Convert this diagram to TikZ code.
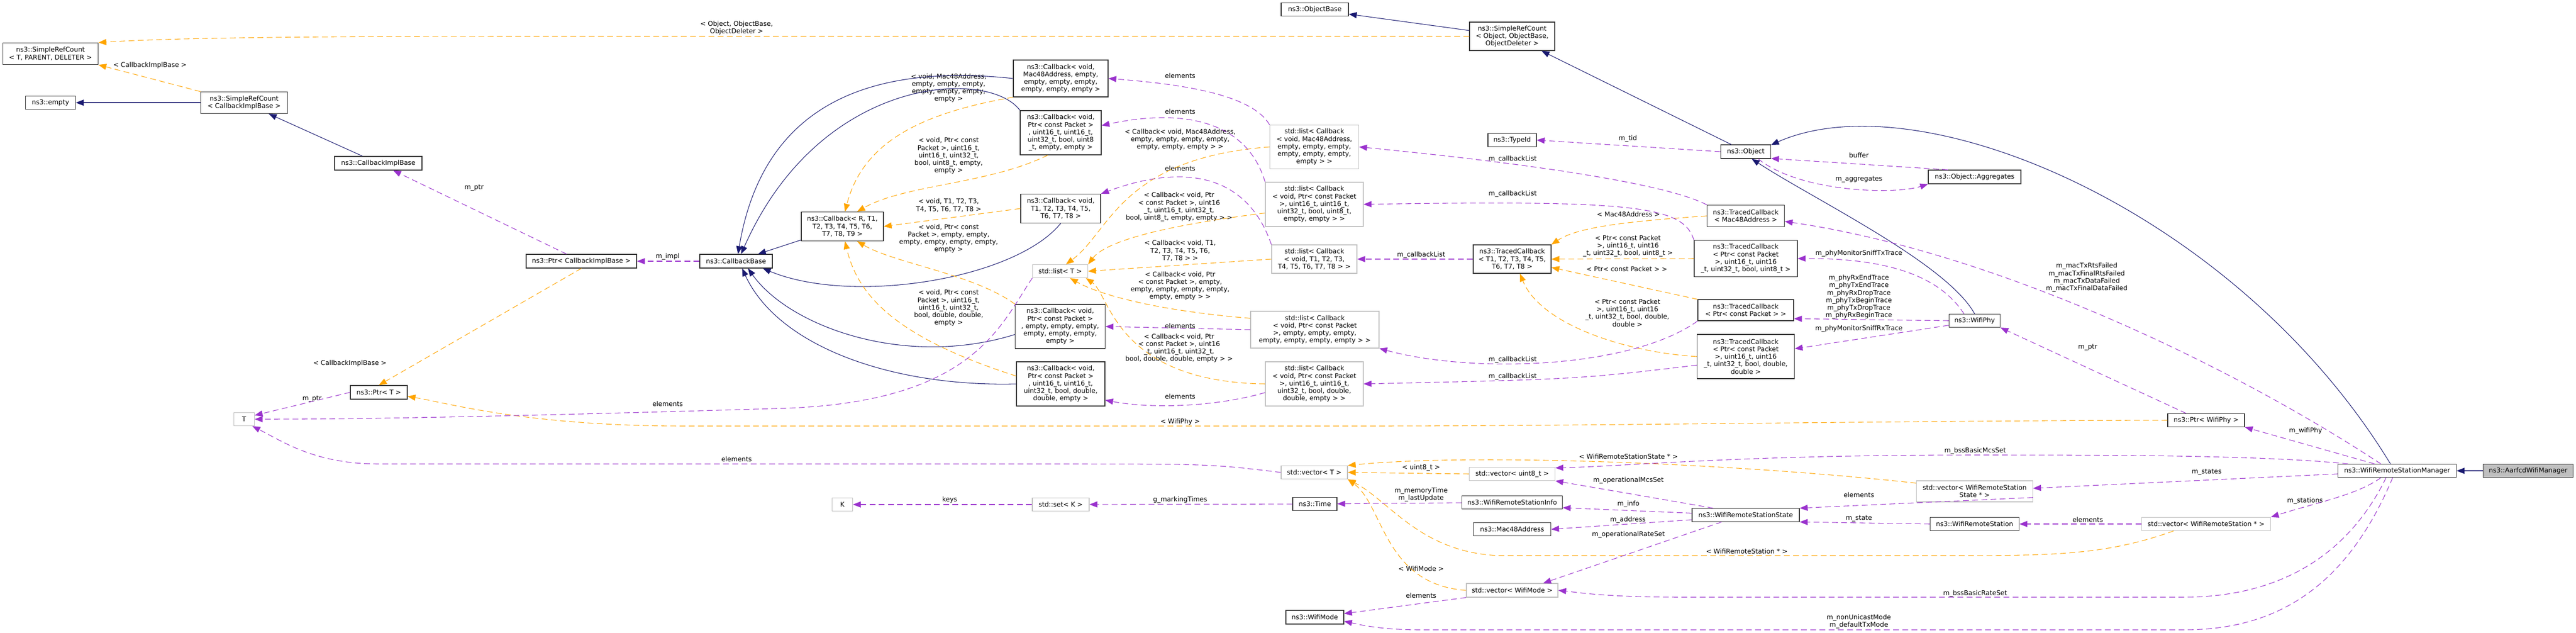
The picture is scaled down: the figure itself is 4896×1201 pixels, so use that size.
\documentclass[tikz,border=0pt]{standalone}
\usepackage{fontspec}
\setmainfont{DejaVu Sans}
\usetikzlibrary{arrows.meta}
\definecolor{inhc}{HTML}{191970}
\definecolor{usec}{HTML}{9A32CD}
\definecolor{tplc}{HTML}{FFA500}
\definecolor{grayb}{HTML}{BFBFBF}
\newcommand\dgfont{\fontsize{7.1pt}{8.1pt}\selectfont}
\tikzset{
  every node/.style={font=\dgfont},
  sz/.style n args={2}{minimum width=#1*0.02cm,minimum height=#2*0.02cm},
  nb/.style={draw=black!80,line width=0.7pt,fill=white,inner sep=0pt,align=center},
  ng/.style={draw=grayb,line width=0.7pt,fill=white,inner sep=0pt,align=center},
  lbl/.style={inner sep=0pt,align=center},
  tip/.style={-{Triangle[length=3mm,width=2.3mm]}},
  inh/.style={draw=inhc,line width=0.6pt,tip,-{Triangle[length=3mm,width=2.3mm,fill=inhc]}},
  use/.style={draw=usec,line width=0.6pt,dash pattern=on 2.2mm off 1.3mm,-{Triangle[length=3mm,width=2.3mm,fill=usec]}},
  tpl/.style={draw=tplc,line width=0.6pt,dash pattern=on 2.2mm off 1.3mm,-{Triangle[length=3mm,width=2.3mm,fill=tplc]}},
}
\begin{document}
\begin{tikzpicture}[x=0.02cm,y=-0.02cm]
\fill[white] (0,0) rectangle (4896,1201);
\useasboundingbox (0,0) rectangle (4896,1201);
% nodes
\node[nb,sz={181}{41}] (srcT) at (96,102) {ns3::SimpleRefCount\\< T, PARENT, DELETER >};
\node[nb,sz={95}{25}] (empty) at (96,195) {ns3::empty};
\node[nb,sz={165}{41}] (srcCIB) at (464,195) {ns3::SimpleRefCount\\< CallbackImplBase >};
\node[nb,sz={166}{26}] (cib) at (719,310) {ns3::CallbackImplBase};
\node[nb,sz={210}{26}] (ptrCIB) at (1105,496) {ns3::Ptr< CallbackImplBase >};
\node[nb,sz={138}{26}] (cbBase) at (1399,496) {ns3::CallbackBase};
\node[nb,sz={108}{26}] (ptrT) at (720,745) {ns3::Ptr< T >};
\node[ng,sz={39}{25}] (T) at (464,796) {T};
\node[ng,sz={39}{25}] (K) at (1601,958) {K};
\node[ng,sz={108}{25}] (setK) at (2016,958) {std::set< K >};
\node[nb,sz={156}{55}] (cbRT) at (1601,430) {ns3::Callback< R, T1,\\T2, T3, T4, T5, T6,\\T7, T8, T9 >};
\node[nb,sz={180}{70}] (cbMac) at (2016,149) {ns3::Callback< void,\\Mac48Address, empty,\\empty, empty, empty,\\empty, empty, empty >};
\node[nb,sz={154}{84}] (cbPkt8) at (2016,252) {ns3::Callback< void,\\Ptr< const Packet >\\, uint16\_t, uint16\_t,\\uint32\_t, bool, uint8\\\_t, empty, empty >};
\node[nb,sz={152}{55}] (cbT) at (2016,396) {ns3::Callback< void,\\T1, T2, T3, T4, T5,\\T6, T7, T8 >};
\node[ng,sz={105}{25}] (listT) at (2015,515) {std::list< T >};
\node[nb,sz={171}{84}] (cbPkt0) at (2015,620) {ns3::Callback< void,\\Ptr< const Packet >\\, empty, empty, empty,\\empty, empty, empty,\\empty >};
\node[nb,sz={168}{84}] (cbPktDD) at (2016,729) {ns3::Callback< void,\\Ptr< const Packet >\\, uint16\_t, uint16\_t,\\uint32\_t, bool, double,\\double, empty >};
\node[nb,sz={128}{25}] (objBase) at (2499,18) {ns3::ObjectBase};
\node[ng,sz={169}{83}] (listMac) at (2498,279) {std::list< Callback\\< void, Mac48Address,\\empty, empty, empty,\\empty, empty, empty,\\empty > >};
\node[ng,sz={186}{84}] (listPkt8) at (2498,388) {std::list< Callback\\< void, Ptr< const Packet\\>, uint16\_t, uint16\_t,\\uint32\_t, bool, uint8\_t,\\empty, empty > >};
\node[ng,sz={162}{54}] (listTT) at (2498,492) {std::list< Callback\\< void, T1, T2, T3,\\T4, T5, T6, T7, T8 > >};
\node[ng,sz={244}{70}] (listPkt0) at (2499,626) {std::list< Callback\\< void, Ptr< const Packet\\>, empty, empty, empty,\\empty, empty, empty, empty > >};
\node[ng,sz={186}{84}] (listPktDD) at (2498,729) {std::list< Callback\\< void, Ptr< const Packet\\>, uint16\_t, uint16\_t,\\uint32\_t, bool, double,\\double, empty > >};
\node[ng,sz={126}{25}] (vecT) at (2498,897) {std::vector< T >};
\node[nb,sz={84}{25}] (timeN) at (2499,957) {ns3::Time};
\node[nb,sz={110}{26}] (wifiMode) at (2499,1172) {ns3::WifiMode};
\node[nb,sz={162}{54}] (srcObj) at (2874,69) {ns3::SimpleRefCount\\< Object, ObjectBase,\\ObjectDeleter >};
\node[nb,sz={92}{25}] (typeId) at (2874,266) {ns3::TypeId};
\node[nb,sz={148}{54}] (tcT) at (2874,492) {ns3::TracedCallback\\< T1, T2, T3, T4, T5,\\T6, T7, T8 >};
\node[ng,sz={163}{25}] (vecU8) at (2874,900) {std::vector< uint8\_t >};
\node[nb,sz={191}{25}] (wrsInfo) at (2874,954) {ns3::WifiRemoteStationInfo};
\node[nb,sz={147}{25}] (mac48) at (2874,1005) {ns3::Mac48Address};
\node[ng,sz={174}{26}] (vecWM) at (2874,1121) {std::vector< WifiMode >};
\node[nb,sz={95}{26}] (object) at (3318,288) {ns3::Object};
\node[nb,sz={147}{41}] (tcMac) at (3318,410) {ns3::TracedCallback\\< Mac48Address >};
\node[nb,sz={196}{69}] (tcPkt8) at (3318,491) {ns3::TracedCallback\\< Ptr< const Packet\\>, uint16\_t, uint16\\\_t, uint32\_t, bool, uint8\_t >};
\node[nb,sz={182}{40}] (tcPkt) at (3318,589) {ns3::TracedCallback\\< Ptr< const Packet > >};
\node[nb,sz={185}{84}] (tcPktDD) at (3318,677) {ns3::TracedCallback\\< Ptr< const Packet\\>, uint16\_t, uint16\\\_t, uint32\_t, bool, double,\\double >};
\node[nb,sz={204}{25}] (wrsState) at (3318,978) {ns3::WifiRemoteStationState};
\node[nb,sz={176}{26}] (aggr) at (3753,336) {ns3::Object::Aggregates};
\node[nb,sz={97}{25}] (wifiPhy) at (3753,609) {ns3::WifiPhy};
\node[ng,sz={221}{40}] (vecWRSState) at (3753,933) {std::vector< WifiRemoteStation\\State * >};
\node[nb,sz={169}{25}] (wrs) at (3753,995) {ns3::WifiRemoteStation};
\node[nb,sz={146}{25}] (ptrWP) at (4193,798) {ns3::Ptr< WifiPhy >};
\node[ng,sz={245}{25}] (vecWRS) at (4193,995) {std::vector< WifiRemoteStation * >};
\node[nb,sz={225}{25}] (wrsm) at (4556,894) {ns3::WifiRemoteStationManager};
\node[nb,fill=grayb,sz={171}{25}] (aarf) at (4805,894) {ns3::AarfcdWifiManager};
% labels
\node[lbl] (lb1) at (285,124) {< CallbackImplBase >};
\node[lbl] (lb2) at (1400,53) {< Object, ObjectBase,\\ObjectDeleter >};
\node[lbl] (lb3) at (901,357) {m\_ptr};
\node[lbl] (lb4) at (1269,487) {m\_impl};
\node[lbl] (lb5) at (665,690) {< CallbackImplBase >};
\node[lbl] (lb6) at (593,758) {m\_ptr};
\node[lbl] (lb7) at (1803,167) {< void, Mac48Address,\\empty, empty, empty,\\empty, empty, empty,\\empty >};
\node[lbl] (lb8) at (1803,296) {< void, Ptr< const\\Packet >, uint16\_t,\\uint16\_t, uint32\_t,\\bool, uint8\_t, empty,\\empty >};
\node[lbl] (lb9) at (1803,390) {< void, T1, T2, T3,\\T4, T5, T6, T7, T8 >};
\node[lbl] (lb10) at (1803,453) {< void, Ptr< const\\Packet >, empty, empty,\\empty, empty, empty, empty,\\empty >};
\node[lbl] (lb11) at (1803,585) {< void, Ptr< const\\Packet >, uint16\_t,\\uint16\_t, uint32\_t,\\bool, double, double,\\empty >};
\node[lbl] (lb12) at (1269,767) {elements};
\node[lbl] (lb13) at (1400,872) {elements};
\node[lbl] (lb14) at (1805,949) {keys};
\node[lbl] (lb15) at (2243,144) {elements};
\node[lbl] (lb16) at (2243,212) {elements};
\node[lbl] (lb17) at (2243,265) {< Callback< void, Mac48Address,\\empty, empty, empty, empty,\\empty, empty, empty > >};
\node[lbl] (lb18) at (2243,320) {elements};
\node[lbl] (lb19) at (2241,393) {< Callback< void, Ptr\\< const Packet >, uint16\\\_t, uint16\_t, uint32\_t,\\bool, uint8\_t, empty, empty > >};
\node[lbl] (lb20) at (2243,476) {< Callback< void, T1,\\T2, T3, T4, T5, T6,\\T7, T8 > >};
\node[lbl] (lb21) at (2243,543) {< Callback< void, Ptr\\< const Packet >, empty,\\empty, empty, empty, empty,\\empty, empty > >};
\node[lbl] (lb22) at (2243,619) {elements};
\node[lbl] (lb23) at (2241,661) {< Callback< void, Ptr\\< const Packet >, uint16\\\_t, uint16\_t, uint32\_t,\\bool, double, double, empty > >};
\node[lbl] (lb24) at (2243,753) {elements};
\node[lbl] (lb25) at (2243,801) {< WifiPhy >};
\node[lbl] (lb26) at (2243,949) {g\_markingTimes};
\node[lbl] (lb27) at (2701,888) {< uint8\_t >};
\node[lbl] (lb28) at (2701,939) {m\_memoryTime\\m\_lastUpdate};
\node[lbl] (lb29) at (2701,1080) {< WifiMode >};
\node[lbl] (lb30) at (2701,1131) {elements};
\node[lbl] (lb31) at (2875,302) {m\_callbackList};
\node[lbl] (lb32) at (2875,368) {m\_callbackList};
\node[lbl] (lb33) at (2701,484) {m\_callbackList};
\node[lbl] (lb34) at (2875,683) {m\_callbackList};
\node[lbl] (lb35) at (2875,715) {m\_callbackList};
\node[lbl] (lb36) at (3094,263) {m\_tid};
\node[lbl] (lb37) at (3095,407) {< Mac48Address >};
\node[lbl] (lb38) at (3094,467) {< Ptr< const Packet\\>, uint16\_t, uint16\\\_t, uint32\_t, bool, uint8\_t >};
\node[lbl] (lb39) at (3092,511) {< Ptr< const Packet > >};
\node[lbl] (lb40) at (3093,594) {< Ptr< const Packet\\>, uint16\_t, uint16\\\_t, uint32\_t, bool, double,\\double >};
\node[lbl] (lb41) at (3533,295) {buffer};
\node[lbl] (lb42) at (3533,341) {m\_aggregates};
\node[lbl] (lb43) at (3533,481) {m\_phyMonitorSniffTxTrace};
\node[lbl] (lb44) at (3533,564) {m\_phyRxEndTrace\\m\_phyTxEndTrace\\m\_phyRxDropTrace\\m\_phyTxBeginTrace\\m\_phyTxDropTrace\\m\_phyRxBeginTrace};
\node[lbl] (lb45) at (3533,624) {m\_phyMonitorSniffRxTrace};
\node[lbl] (lb46) at (3966,527) {m\_macTxRtsFailed\\m\_macTxFinalRtsFailed\\m\_macTxDataFailed\\m\_macTxFinalDataFailed};
\node[lbl] (lb47) at (3968,660) {m\_ptr};
\node[lbl] (lb48) at (3095,867) {< WifiRemoteStationState * >};
\node[lbl] (lb49) at (3095,912) {m\_operationalMcsSet};
\node[lbl] (lb50) at (3095,957) {m\_info};
\node[lbl] (lb51) at (3094,987) {m\_address};
\node[lbl] (lb52) at (3095,1015) {m\_operationalRateSet};
\node[lbl] (lb53) at (3754,856) {m\_bssBasicMcsSet};
\node[lbl] (lb54) at (3533,940) {elements};
\node[lbl] (lb55) at (3533,985) {m\_state};
\node[lbl] (lb56) at (3968,987) {elements};
\node[lbl] (lb57) at (3320,1047) {< WifiRemoteStation * >};
\node[lbl] (lb58) at (3754,1127) {m\_bssBasicRateSet};
\node[lbl] (lb59) at (3533,1180) {m\_nonUnicastMode\\m\_defaultTxMode};
\node[lbl] (lb60) at (4382,818) {m\_wifiPhy};
\node[lbl] (lb61) at (4194,897) {m\_states};
\node[lbl] (lb62) at (4381,951) {m\_stations};
% inheritance
\draw[inh] (srcCIB) -- (empty);
\draw[inh] (cib) -- (srcCIB);
\draw[inh] (srcObj) -- (objBase);
\draw[inh] (object) -- (srcObj);
\draw[inh] (cbRT) -- (cbBase);
\draw[inh] (cbMac.west) .. controls (1650,120) and (1450,200) .. (cbBase.75);
\draw[inh] (cbPkt8.north west) .. controls (1880,130) and (1560,140) .. (cbBase.55);
\draw[inh] (cbT.south) .. controls (1930,530) and (1620,580) .. (cbBase.-15);
\draw[inh] (cbPkt0.190) .. controls (1720,700) and (1500,620) .. (cbBase.-31);
\draw[inh] (cbPktDD.west) .. controls (1700,735) and (1480,660) .. (cbBase.-50);
\draw[inh] (wifiPhy.north) .. controls (3700,500) and (3450,380) .. (object.-50);
\draw[inh] (wrsm.134) .. controls (4250,400) and (3650,150) .. (object.15);
\draw[inh] (aarf) -- (wrsm);
% templates
\draw[tpl] (srcCIB.north west) -- (srcT.south east);
\draw[tpl] (srcObj.west) -- (1000,69) .. controls (700,69) and (350,70) .. (srcT.north east);
\draw[tpl] (ptrCIB.south) -- (ptrT.north);
\draw[tpl] (cbMac.south west) .. controls (1750,215) and (1640,270) .. (cbRT.80);
\draw[tpl] (cbPkt8.-120) .. controls (1880,350) and (1720,350) .. (cbRT.45);
\draw[tpl] (cbT.west) -- (cbRT.east);
\draw[tpl] (cbPkt0.north west) .. controls (1850,520) and (1700,500) .. (cbRT.-45);
\draw[tpl] (cbPktDD.170) .. controls (1700,640) and (1630,560) .. (cbRT.-80);
\draw[tpl] (listMac.west) .. controls (2130,300) and (2110,440) .. (listT.50);
\draw[tpl] (listPkt8.190) .. controls (2200,430) and (2100,460) .. (listT.north east);
\draw[tpl] (listTT.west) -- (listT.east);
\draw[tpl] (listPkt0.170) .. controls (2200,590) and (2090,560) .. (listT.-35);
\draw[tpl] (listPktDD.west) .. controls (2120,725) and (2110,560) .. (listT.-15);
\draw[tpl] (tcMac.west) .. controls (3100,420) and (3000,430) .. (tcT.north east);
\draw[tpl] (tcPkt8.west) -- (tcT.east);
\draw[tpl] (tcPkt.north west) -- (tcT.-12);
\draw[tpl] (tcPktDD.west) .. controls (3100,670) and (2930,620) .. (tcT.-62);
\draw[tpl] (ptrWP.west) .. controls (3600,799) and (3000,809) .. (2600,809) -- (1300,809) .. controls (1000,809) and (850,765) .. (ptrT.-8);
\draw[tpl] (vecU8.west) -- (vecT.east);
\draw[tpl] (vecWRSState.172) .. controls (3300,880) and (2800,860) .. (vecT.north east);
\draw[tpl] (vecWRS.-168) .. controls (4000,1055) and (3900,1055) .. (3700,1055) -- (2850,1055) .. controls (2700,1050) and (2640,950) .. (vecT.south east);
\draw[tpl] (vecWM.west) .. controls (2630,1110) and (2630,960) .. (vecT.south east);
% usage
\draw[use] (ptrCIB) -- (cib);
\draw[use] (cbBase) -- (ptrCIB);
\draw[use] (ptrT.west) -- (T.20);
\draw[use] (listT.south west) .. controls (1900,620) and (1850,760) .. (1500,775) .. controls (1000,790) and (700,796) .. (T.0);
\draw[use] (vecT.west) .. controls (2300,881) .. (2000,881) -- (720,881) .. controls (600,881) and (540,840) .. (T.-40);
\draw[use] (setK) -- (K);
\draw[use] (timeN) -- (setK);
\draw[use] (wrsInfo) -- (timeN);
\draw[use] (listMac.north west) .. controls (2380,180) and (2250,160) .. (cbMac.east);
\draw[use] (listPkt8.north west) .. controls (2370,230) and (2250,205) .. (cbPkt8.10);
\draw[use] (listTT.north west) .. controls (2370,330) and (2250,310) .. (cbT.north east);
\draw[use] (listPkt0.west) -- (cbPkt0.east);
\draw[use] (listPktDD.190) .. controls (2300,775) and (2180,775) .. (cbPktDD.-20);
\draw[use] (tcMac.north west) .. controls (3150,340) and (2800,300) .. (listMac.east);
\draw[use] (tcPkt8.north west) .. controls (3200,390) and (3100,380) .. (listPkt8.east);
\draw[use] (tcT.west) -- (listTT.east);
\draw[use] (tcPkt.south west) .. controls (3100,700) and (2800,710) .. (listPkt0.south east);
\draw[use] (tcPktDD.190) .. controls (3000,720) .. (listPktDD.east);
\draw[use] (object.west) -- (typeId.east);
\draw[use] (object.-30) .. controls (3420,365) and (3600,370) .. (aggr.south west);
\draw[use] (aggr.165) -- (object.-15);
\draw[use] (wrsm.157) .. controls (4250,700) and (3800,480) .. (tcMac.-8);
\draw[use] (wrsm.163) -- (ptrWP.south east);
\draw[use] (ptrWP.161) -- (wifiPhy.south east);
\draw[use] (wrsm.172) .. controls (4300,864) and (4000,864) .. (3750,864) .. controls (3300,864) and (3100,885) .. (vecU8.8);
\draw[use] (wrsm.183) -- (vecWRSState.3);
\draw[use] (wrsm.-157) .. controls (4480,940) and (4400,955) .. (vecWRS.north east);
\draw[use] (wrsm.-148) .. controls (4450,1080) and (4300,1134) .. (4150,1134) -- (3200,1134) .. controls (3050,1134) and (3000,1125) .. (vecWM.east);
\draw[use] (wrsm.-123) .. controls (4450,1140) and (4300,1196) .. (4150,1196) -- (2700,1196) .. controls (2620,1196) and (2580,1185) .. (wifiMode.-8);
\draw[use] (vecWM.south west) -- (wifiMode.7);
\draw[use] (wrsState.-164) -- (vecWM.13);
\draw[use] (wrsState.168) -- (vecU8.south east);
\draw[use] (wrsState.178) -- (wrsInfo.-6);
\draw[use] (wrsState.-175) -- (mac48.east);
\draw[use] (vecWRSState.-6) -- (wrsState.north east);
\draw[use] (wrs.west) -- (wrsState.south east);
\draw[use] (vecWRS.west) -- (wrs.east);
\draw[use] (wifiPhy.147) .. controls (3690,530) and (3600,490) .. (tcPkt8.east);
\draw[use] (wifiPhy.west) -- (tcPkt.-10);
\draw[use] (wifiPhy.190) -- (tcPktDD.9);
\end{tikzpicture}
\end{document}
